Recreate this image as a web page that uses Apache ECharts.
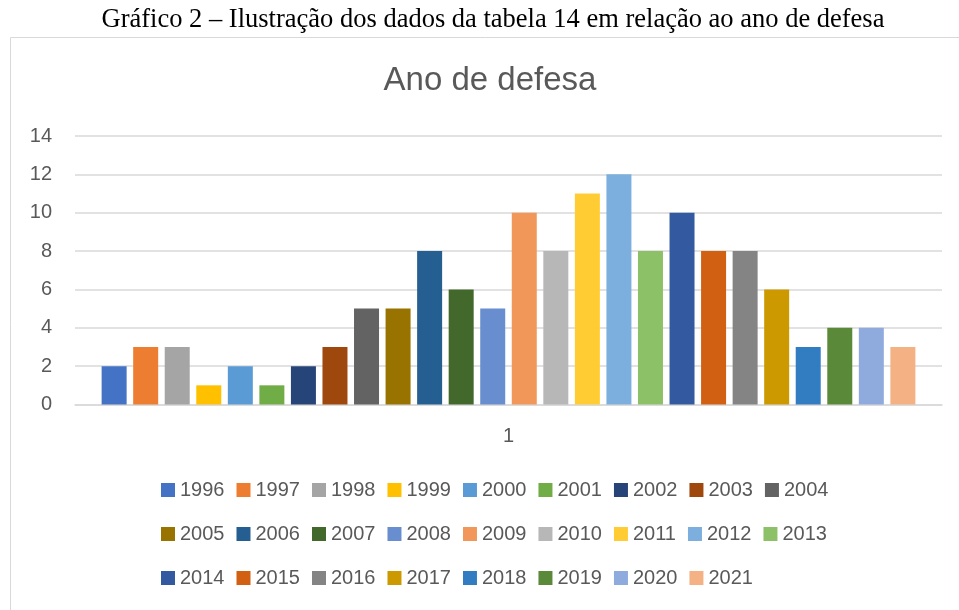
<!DOCTYPE html>
<html>
<head>
<meta charset="utf-8">
<script src="https://cdn.jsdelivr.net/npm/echarts@6/dist/echarts.min.js"></script>
<style>
  html, body { margin: 0; padding: 0; background: #fff; }
  #chart { width: 959px; height: 610px; }
</style>
</head>
<body>
<div id="chart"></div>
<script>
// Gráfico 2 — teses por ano de defesa (uma série por ano, categoria única "1")
const categories = ['1'];
const years = ['1996','1997','1998','1999','2000','2001','2002','2003','2004',
               '2005','2006','2007','2008','2009','2010','2011','2012','2013',
               '2014','2015','2016','2017','2018','2019','2020','2021'];
const counts = [2, 3, 3, 1, 2, 1, 2, 3, 5,
                5, 8, 6, 5, 10, 8, 11, 12, 8,
                10, 8, 8, 6, 3, 4, 4, 3];
const colors = ['#4472C4','#ED7D31','#A5A5A5','#FFC000','#5B9BD5','#70AD47','#264478','#9E480E','#636363',
                '#997300','#255E91','#43682B','#698ED0','#F1975A','#B7B7B7','#FFCD33','#7CAFDD','#8CC168',
                '#335AA1','#D26012','#848484','#CC9A00','#327DC2','#5A8A39','#8FAADC','#F4B183'];
const yTicks = { min: 0, max: 14, interval: 2 };

const ink = '#595959', grid = '#d9d9d9';
const sans = '"Liberation Sans", Arial, sans-serif';

const chart = echarts.init(document.getElementById('chart'), null, { renderer: 'canvas' });
chart.setOption({
  backgroundColor: '#fff',
  animation: false,
  color: colors,
  graphic: [{
    type: 'rect', silent: true,
    shape: { x: 10.5, y: 37.5, width: 1000, height: 700 },
    style: { fill: 'none', stroke: grid, lineWidth: 1 }
  }],
  title: [
    { text: 'Gráfico 2 – Ilustração dos dados da tabela 14 em relação ao ano de defesa',
      left: 493, top: 7, textAlign: 'center', padding: 0,
      textStyle: { fontFamily: '"Liberation Serif", "Times New Roman", serif', fontSize: 26.5,
                   fontWeight: 'normal', color: '#000' } },
    { text: 'Ano de defesa', left: 490, top: 64, textAlign: 'center', padding: 0,
      textStyle: { fontFamily: sans, fontSize: 33, fontWeight: 'normal', color: ink } }
  ],
  grid: { left: 75, right: 17, top: 136, bottom: 205.5, containLabel: false },
  legend: {
    data: years, left: 161, top: 474, width: 690, padding: 0,
    itemWidth: 14, itemHeight: 14, itemGap: 12, icon: 'rect',
    textStyle: { fontFamily: sans, fontSize: 20, color: ink, lineHeight: 32 }
  },
  xAxis: {
    type: 'category', data: categories,
    axisLine: { lineStyle: { color: grid, width: 1.5 } },
    axisTick: { show: false },
    axisLabel: { fontFamily: sans, fontSize: 20, color: ink, margin: 22 }
  },
  yAxis: {
    type: 'value', min: yTicks.min, max: yTicks.max, interval: yTicks.interval,
    axisLine: { show: false }, axisTick: { show: false },
    splitLine: { lineStyle: { color: grid, width: 1.5 } },
    axisLabel: { fontFamily: sans, fontSize: 20, color: ink, margin: 23 }
  },
  series: years.map((y, i) => ({
    name: y, type: 'bar', data: [counts[i]],
    barWidth: 25, barGap: '26.2%',
    itemStyle: { color: colors[i] }
  }))
});
</script>
</body>
</html>
